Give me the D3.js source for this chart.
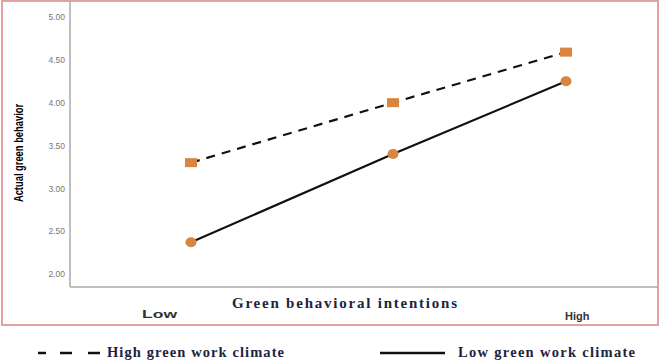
<!DOCTYPE html>
<html>
<meta charset="utf-8">
<style>
body { margin: 0; background: #fff; }
.tick text { fill: #777; font: 8.5px Arial, "Liberation Sans", sans-serif; }
</style>
<body>
<script src="https://d3js.org/d3.v7.min.js"></script>
<script>
var categories = ["Low", "Mid", "High"];
var xLabels = ["Low", "", "High"];
var yTicks = [2.00, 2.50, 3.00, 3.50, 4.00, 4.50, 5.00];
var highClimate = [3.30, 4.00, 4.59];
var lowClimate = [2.37, 3.40, 4.25];
var seriesNames = ["High green work climate", "Low green work climate"];

var W = 661, H = 360;
var svg = d3.select("body").append("svg")
	.attr("width", W)
	.attr("height", H);

// outer pink frame
svg.append("rect")
	.attr("x", 2).attr("y", 1)
	.attr("width", 656).attr("height", 324)
	.attr("fill", "none")
	.attr("stroke", "#e2a2a2")
	.attr("stroke-width", 2);

// the middle point is not centred in the original
var x = d3.scaleOrdinal().domain(categories).range([191, 393, 566]);
var y = d3.scaleLinear().domain([2, 5]).range([274, 17]);

// axis lines
svg.append("line")
	.attr("x1", 70).attr("x2", 70).attr("y1", 2).attr("y2", 287)
	.attr("stroke", "#aaa").attr("stroke-width", 1.5);
svg.append("line")
	.attr("x1", 70).attr("x2", 658).attr("y1", 287).attr("y2", 287)
	.attr("stroke", "#aaa").attr("stroke-width", 1.5);

var yAxis = d3.axisLeft(y).tickValues(yTicks).tickFormat(d3.format(".2f")).tickSize(0).tickPadding(5);
var gy = svg.append("g").attr("transform", "translate(70,0)").call(yAxis);
gy.select(".domain").remove();

// y title (narrow font in the original)
svg.append("text")
	.attr("transform", "translate(23,153) rotate(-90) scale(0.72,1)")
	.attr("text-anchor", "middle")
	.style("font-family", "Arial, 'Liberation Sans', sans-serif")
	.style("font-size", "13px")
	.style("font-weight", "bold")
	.text("Actual green behavior");

// x category labels ("Low" is stretched wide in the original)
svg.append("text")
	.attr("x", x("Low") - 49).attr("y", 318)
	.attr("textLength", 35)
	.attr("lengthAdjust", "spacingAndGlyphs")
	.style("font-family", "Arial, 'Liberation Sans', sans-serif")
	.style("font-size", "11.5px")
	.style("font-weight", "bold")
	.style("fill", "#333")
	.text(xLabels[0]);
svg.append("text")
	.attr("x", x("High") - 1).attr("y", 320)
	.style("font-family", "Arial, 'Liberation Sans', sans-serif")
	.style("font-size", "11px")
	.style("font-weight", "bold")
	.style("fill", "#333")
	.text(xLabels[2]);

svg.append("text")
	.attr("x", 232).attr("y", 308)
	.attr("textLength", 225)
	.attr("lengthAdjust", "spacing")
	.style("font-family", "'Liberation Serif', 'Times New Roman', serif")
	.style("font-size", "15px")
	.style("font-weight", "bold")
	.style("fill", "#1c2440")
	.text("Green behavioral intentions");

var line = d3.line()
	.x(function(d, i) { return x(categories[i]); })
	.y(function(d) { return y(d); });

svg.append("path")
	.attr("d", line(highClimate))
	.attr("fill", "none")
	.attr("stroke", "#111")
	.attr("stroke-width", 2.2)
	.attr("stroke-dasharray", "9,7");

svg.append("path")
	.attr("d", line(lowClimate))
	.attr("fill", "none")
	.attr("stroke", "#111")
	.attr("stroke-width", 2.2);

var orange = "#d9843f";
svg.selectAll(".sq").data(highClimate).enter().append("rect")
	.attr("x", function(d, i) { return x(categories[i]) - 6; })
	.attr("y", function(d) { return y(d) - 4.5; })
	.attr("width", 12).attr("height", 9)
	.attr("fill", orange);

svg.selectAll(".ci").data(lowClimate).enter().append("ellipse")
	.attr("cx", function(d, i) { return x(categories[i]); })
	.attr("cy", function(d) { return y(d); })
	.attr("rx", 5.5).attr("ry", 5)
	.attr("fill", orange);

// legend
svg.append("line")
	.attr("x1", 38).attr("x2", 100).attr("y1", 353).attr("y2", 353)
	.attr("stroke", "#111").attr("stroke-width", 2.5)
	.attr("stroke-dasharray", "8,14,12,16,12,20");
svg.append("line")
	.attr("x1", 380).attr("x2", 445).attr("y1", 353).attr("y2", 353)
	.attr("stroke", "#111").attr("stroke-width", 2.5);

svg.selectAll(".lg").data(seriesNames).enter().append("text")
	.attr("x", function(d, i) { return i == 0 ? 107 : 458; })
	.attr("y", 357)
	.attr("textLength", 177)
	.attr("lengthAdjust", "spacing")
	.style("font-family", "'Liberation Serif', 'Times New Roman', serif")
	.style("font-size", "14.5px")
	.style("font-weight", "bold")
	.style("fill", "#1c2440")
	.text(function(d) { return d; });
</script>
</body>
</html>
